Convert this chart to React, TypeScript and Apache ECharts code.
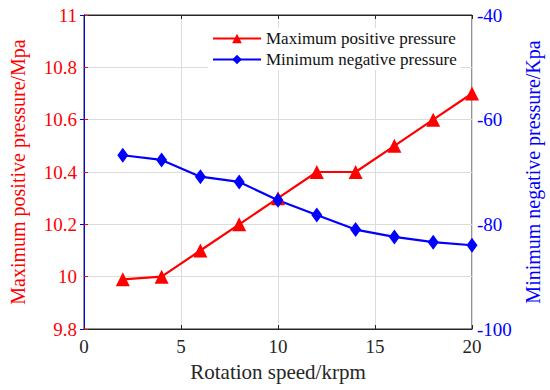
import React, { useEffect, useRef } from "react";
import * as echarts from "echarts";

const speeds = [2, 4, 6, 8, 10, 12, 14, 16, 18, 20];
const maxPositive = [9.99, 10.0, 10.1, 10.2, 10.3, 10.4, 10.4, 10.5, 10.6, 10.7];
const minNegative = [-66.8, -67.7, -70.9, -71.9, -75.4, -78.2, -81.0, -82.4, -83.4, -84.0];
const seriesNames = ["Maximum positive pressure", "Minimum negative pressure"];

const FONT = "'Liberation Serif', 'Times New Roman', serif";

export default function App() {
  const ref = useRef<HTMLDivElement>(null);
  useEffect(() => {
    if (!ref.current) return;
    const chart = echarts.init(ref.current, undefined, { renderer: "svg" });
    chart.setOption({
      animation: false,
      backgroundColor: "#ffffff",
      textStyle: { fontFamily: FONT },
      grid: {
        left: 84,
        right: 78,
        top: 15,
        bottom: 61,
        containLabel: false,
        outerBoundsMode: "none",
        show: true,
        borderColor: "#262626",
        borderWidth: 1,
        backgroundColor: "#ffffff",
      },
      legend: {
        orient: "vertical",
        left: 208,
        top: 28,
        itemWidth: 48,
        itemHeight: 12,
        itemGap: 4,
        padding: [2, 4, 2, 4],
        backgroundColor: "#ffffff",
        textStyle: { fontFamily: FONT, fontSize: 17, color: "#111" },
        data: seriesNames,
      },
      xAxis: [
        {
          type: "value",
          min: 0,
          max: 20,
          interval: 5,
          name: "Rotation speed/krpm",
          nameLocation: "middle",
          nameGap: 32,
          nameTextStyle: { fontFamily: FONT, fontSize: 21, color: "#262626" },
          axisLine: { show: true, lineStyle: { color: "#262626" } },
          axisTick: { show: true, inside: true, length: 4, lineStyle: { color: "#262626" } },
          axisLabel: { fontFamily: FONT, fontSize: 19, color: "#262626", margin: 8 },
          splitLine: { show: true, lineStyle: { color: "#dcdcdc" } },
        },
        {
          type: "value",
          position: "top",
          min: 0,
          max: 20,
          interval: 5,
          axisLine: { show: true, lineStyle: { color: "#262626" } },
          axisTick: { show: true, inside: true, length: 4, lineStyle: { color: "#262626" } },
          axisLabel: { show: false },
          splitLine: { show: false },
        },
      ],
      yAxis: [
        {
          type: "value",
          min: 9.8,
          max: 11,
          interval: 0.2,
          position: "left",
          name: "Maximum positive pressure/Mpa",
          nameLocation: "middle",
          nameGap: 56,
          nameTextStyle: { fontFamily: FONT, fontSize: 20, color: "#ff0000" },
          axisLine: { show: true, lineStyle: { color: "#ff0000" } },
          axisTick: { show: true, inside: true, length: 4, lineStyle: { color: "#ff0000" } },
          axisLabel: {
            fontFamily: FONT,
            fontSize: 19,
            color: "#ff0000",
            margin: 7,
            formatter: (v: number) => String(Math.round(v * 10) / 10),
          },
          splitLine: { show: true, lineStyle: { color: "#dcdcdc" } },
        },
        {
          type: "value",
          min: -100,
          max: -40,
          interval: 20,
          position: "right",
          name: "Minimum negative pressure/Kpa",
          nameLocation: "middle",
          nameGap: 48,
          nameRotate: 90,
          nameTextStyle: { fontFamily: FONT, fontSize: 20, color: "#0000ff" },
          axisLine: { show: true, lineStyle: { color: "#0000ff" } },
          axisTick: { show: true, inside: true, length: 4, lineStyle: { color: "#0000ff" } },
          axisLabel: { fontFamily: FONT, fontSize: 19, color: "#0000ff", margin: 5 },
          splitLine: { show: false },
        },
      ],
      series: [
        {
          name: seriesNames[0],
          type: "line",
          xAxisIndex: 0,
          yAxisIndex: 0,
          data: speeds.map((s, i) => [s, maxPositive[i]]),
          symbol: "triangle",
          symbolSize: 14,
          itemStyle: { color: "#ff0000" },
          lineStyle: { color: "#ff0000", width: 2.2 },
        },
        {
          name: seriesNames[1],
          type: "line",
          xAxisIndex: 0,
          yAxisIndex: 1,
          data: speeds.map((s, i) => [s, minNegative[i]]),
          symbol: "diamond",
          symbolSize: [11, 15],
          itemStyle: { color: "#0000ff" },
          lineStyle: { color: "#0000ff", width: 2.2 },
        },
      ],
    });
    return () => chart.dispose();
  }, []);
  return <div ref={ref} style={{ width: 550, height: 390, position: "absolute", left: 0, top: 0 }} />;
}
